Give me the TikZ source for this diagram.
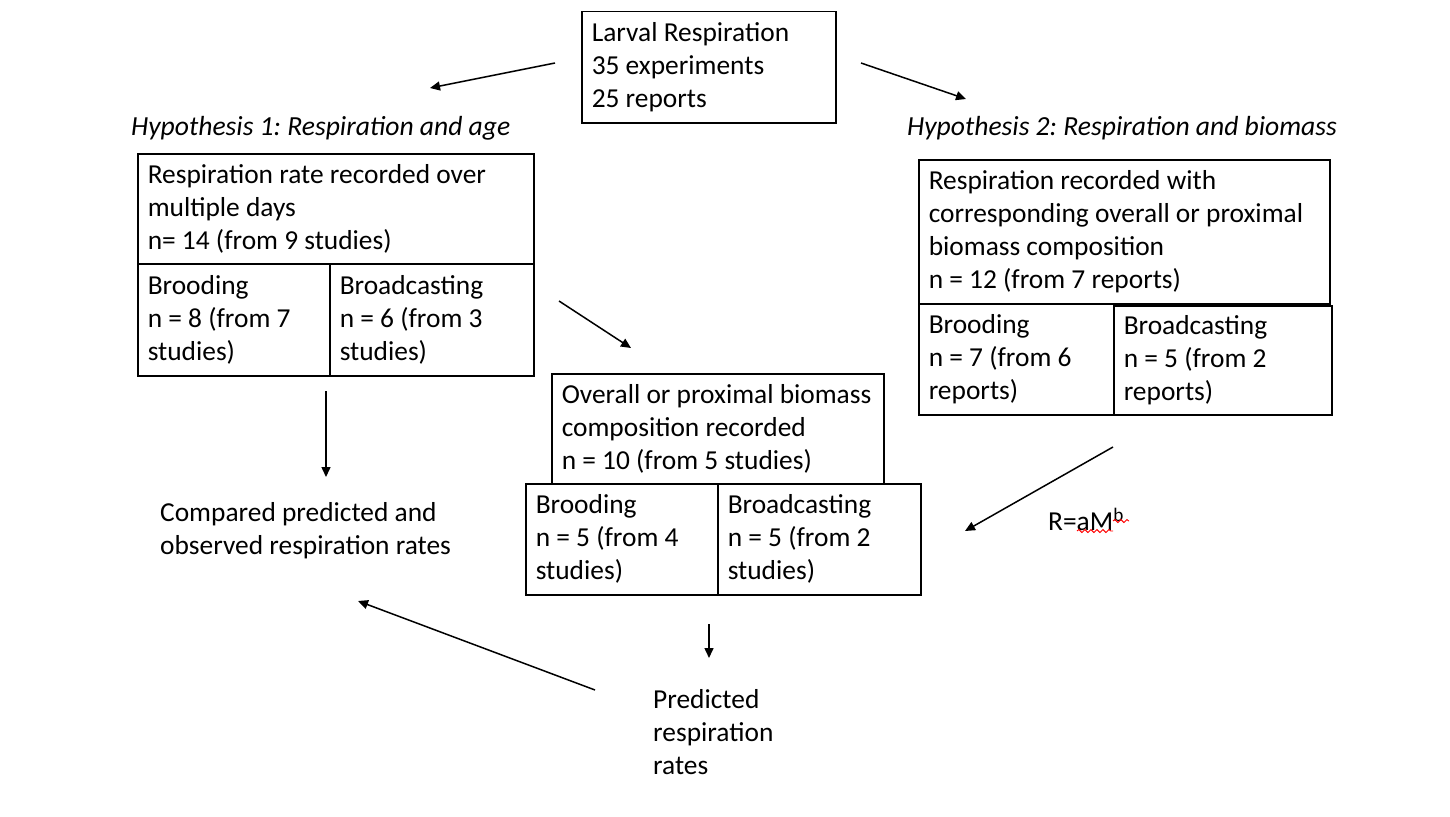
\documentclass[tikz,border=0pt]{standalone}
\usepackage{fontspec}
\setmainfont{Carlito}
\usetikzlibrary{arrows.meta,decorations.pathmorphing}
\begin{document}
\begin{tikzpicture}[x=1pt,y=-1pt,
  bx/.style={draw, line width=1.5pt, anchor=north west, align=flush left,
    inner xsep=10pt, inner ysep=0pt, font=\fontsize{27.4}{33}\selectfont\frenchspacing},
  lbl/.style={anchor=west, align=left, inner sep=0pt, font=\fontsize{27.4}{33}\selectfont\frenchspacing},
  hyp/.style={anchor=west, inner sep=0pt, font=\fontsize{27.6}{33}\selectfont\itshape\frenchspacing},
  arr/.style={line width=1.5pt, -{Triangle[length=10pt,width=9pt]}},
  wavy/.style={red, line width=0.9pt, decorate, decoration={snake, amplitude=1.5pt, segment length=6pt}}]
\useasboundingbox (0,0) rectangle (1450,816);
\fill[white] (0,0) rectangle (1450,816);

% boxes
\node[bx, minimum width=254pt, minimum height=111pt, text width=234pt] (top) at (581,11)
  {Larval Respiration\\35 experiments\\25 reports};

\node[hyp] (h1) at (131,128) {Hypothesis 1: Respiration and age};
\node[hyp] (h2) at (907,128) {Hypothesis 2: Respiration and biomass};

\node[bx, minimum width=396pt, minimum height=110pt, text width=376pt] (h1top) at (137,153)
  {Respiration rate recorded over\\multiple days\\n= 14 (from 9 studies)};
\node[bx, minimum width=192pt, minimum height=112pt, text width=172pt] (h1brood) at (137,263)
  {Brooding\\n = 8 (from 7\\studies)};
\node[bx, minimum width=204pt, minimum height=112pt, text width=184pt] (h1broad) at (329,263)
  {Broadcasting\\n = 6 (from 3\\studies)};

\node[bx, minimum width=411pt, minimum height=144pt, text width=391pt] (h2top) at (918,159)
  {Respiration recorded with\\corresponding overall or proximal\\biomass composition\\n = 12 (from 7 reports)};
\node[bx, minimum width=195pt, minimum height=111pt, text width=175pt] (h2brood) at (918,303)
  {Brooding\\n = 7 (from 6\\reports)};
\node[bx, minimum width=218pt, minimum height=109pt, text width=198pt] (h2broad) at (1113,305)
  {Broadcasting\\n = 5 (from 2\\reports)};

\node[bx, minimum width=332pt, minimum height=110pt, text width=312pt] (midtop) at (551,373)
  {Overall or proximal biomass\\composition recorded\\n = 10 (from 5 studies)};
\node[bx, minimum width=192pt, minimum height=111pt, text width=172pt] (midbrood) at (525,483)
  {Brooding\\n = 5 (from 4\\studies)};
\node[bx, minimum width=203pt, minimum height=111pt, text width=183pt] (midbroad) at (717,483)
  {Broadcasting\\n = 5 (from 2\\studies)};

% free texts
\node[lbl] (comp) at (160,531) {Compared predicted and\\observed respiration rates};
\node[lbl] (pred) at (653,732) {Predicted\\respiration\\rates};
\node[lbl] (eq) at (1048,519) {R=aM\textsuperscript{b}};
\draw[wavy] (1077,531) -- (1113,531);
\draw[wavy] (1113,521) -- (1129,521);

% arrow end points
\coordinate (a1s) at (555,63);   \coordinate (a1e) at (430,88);
\coordinate (a2s) at (861,63);   \coordinate (a2e) at (966,99);
\coordinate (a3s) at (559,301);  \coordinate (a3e) at (631,348);
\coordinate (a4s) at (326,391);  \coordinate (a4e) at (326,477);
\coordinate (a5s) at (1113,447); \coordinate (a5e) at (965,531);
\coordinate (a6s) at (709,624);  \coordinate (a6e) at (709,658);
\coordinate (a7s) at (595,690);  \coordinate (a7e) at (358,601);

\draw[arr] (a1s) -- (a1e);
\draw[arr] (a2s) -- (a2e);
\draw[arr] (a3s) -- (a3e);
\draw[arr] (a4s) -- (a4e);
\draw[arr] (a5s) -- (a5e);
\draw[arr] (a6s) -- (a6e);
\draw[arr] (a7s) -- (a7e);
\end{tikzpicture}
\end{document}
